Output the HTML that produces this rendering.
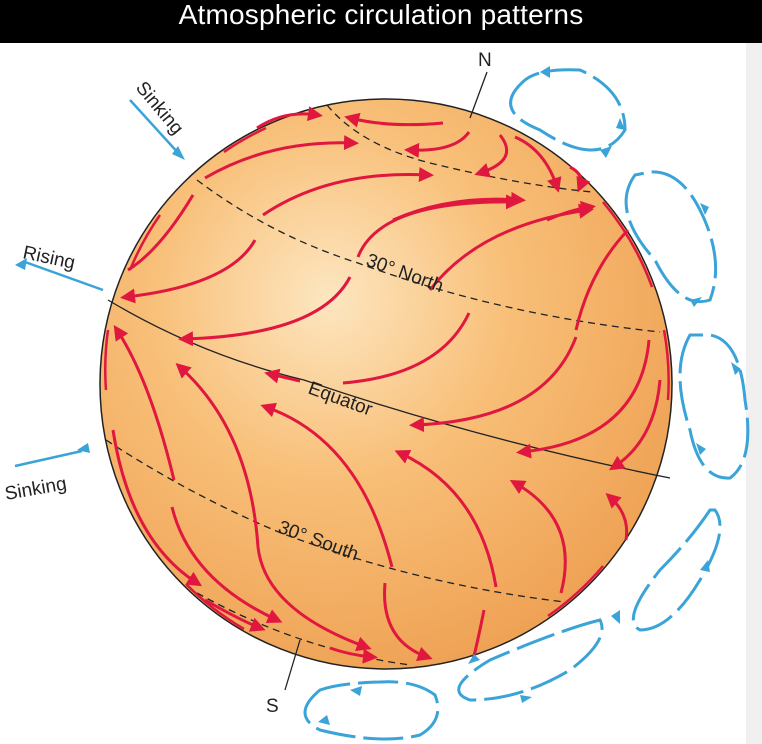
<!DOCTYPE html>
<html><head><meta charset="utf-8"><style>
html,body{margin:0;padding:0;background:#fff}
body{width:762px;height:744px;overflow:hidden;position:relative;font-family:"Liberation Sans",sans-serif}
.hdr{position:absolute;left:0;top:0;width:762px;height:43px;background:#000;color:#fff;font-size:28px;text-align:center;line-height:30px;letter-spacing:0.2px}
.strip{position:absolute;left:746px;top:43px;width:16px;height:701px;background:#f0f0f0}
svg{position:absolute;left:0;top:0}
</style></head><body>
<div class="strip"></div>
<svg width="762" height="744" viewBox="0 0 762 744">
<defs>
<radialGradient id="g" cx="0.4" cy="0.35" r="0.7">
<stop offset="0" stop-color="#fde6c0"/>
<stop offset="0.45" stop-color="#f8bf78"/>
<stop offset="1" stop-color="#eea052"/>
</radialGradient>
<marker id="r" viewBox="0 0 10 10" refX="6" refY="5" markerWidth="5" markerHeight="5" orient="auto"><path d="M0,0L10,5L0,10z" fill="#e0173f"/></marker>
</defs>
<ellipse cx="386" cy="384" rx="286" ry="285" fill="url(#g)" stroke="#222" stroke-width="1.5"/>
<g fill="none" stroke="#222" stroke-width="1.3">
<path d="M327,105 Q360,145 430,163 Q520,185 592,192" stroke-dasharray="7,5"/>
<path d="M197,180 Q270,235 358,263 Q500,315 660,332" stroke-dasharray="7,5"/>
<path d="M108,300 Q200,355 304,380 Q480,440 670,478"/>
<path d="M106,440 Q190,495 281,533 Q420,585 565,602" stroke-dasharray="7,5"/>
<path d="M197,593 Q300,650 410,665" stroke-dasharray="7,5"/>
<path d="M487,72 L470,118"/><path d="M300,640 L285,690"/>
</g>
<g fill="none" stroke="#e0173f" stroke-width="3" marker-end="url(#r)">
<path d="M257,128 Q285,110 317,115"/>
<path d="M443,123 Q390,128 350,118"/>
<path d="M469,132 Q455,152 410,150"/>
<path d="M500,135 Q520,160 480,173"/>
<path d="M515,137 Q545,150 557,187"/>
<path d="M570,167 Q585,175 580,187"/>
<path d="M205,178 Q270,140 353,143"/>
<path d="M263,215 Q330,170 428,175"/>
<path d="M393,220 Q450,195 520,200"/>
<path d="M547,220 Q570,210 590,207"/>
<path d="M358,257 Q380,200 515,202"/>
<path d="M430,290 Q480,225 588,210"/>
<path d="M576,330 Q590,270 628,230" marker-end="none"/>
<path d="M193,195 Q160,250 128,270" marker-end="none"/>
<path d="M255,240 Q230,285 126,297"/>
<path d="M350,277 Q320,335 184,339"/>
<path d="M469,313 Q440,375 343,383" marker-end="none"/>
<path d="M300,381 L270,374"/>
<path d="M576,337 Q545,420 415,425"/>
<path d="M649,340 Q640,440 522,452"/>
<path d="M660,380 Q655,440 614,467"/>
<path d="M174,480 Q150,380 117,330"/>
<path d="M258,547 Q250,430 180,367"/>
<path d="M392,567 Q360,440 266,407"/>
<path d="M496,587 Q480,490 400,453"/>
<path d="M561,593 Q580,520 515,483"/>
<path d="M626,540 Q630,515 610,497"/>
<path d="M113,430 Q130,540 197,583"/>
<path d="M172,507 Q190,580 277,620"/>
<path d="M258,547 Q265,610 366,647"/>
<path d="M385,583 Q380,640 427,657"/>
<path d="M484,610 Q478,640 473,660" marker-end="none"/>
<path d="M205,600 Q240,620 260,628"/>
<path d="M330,648 Q350,655 372,657"/>
</g>
<g fill="none" stroke="#e0173f" stroke-width="2.5">
<path d="M603,202 A283,283 0 0 1 652,287"/>
<path d="M664,330 A283,283 0 0 1 668,400"/>
<path d="M603,566 A283,283 0 0 1 548,616"/>
<path d="M186,584 A283,283 0 0 0 244,629"/>
<path d="M108,330 A283,283 0 0 0 106,390"/>
<path d="M130,270 A283,283 0 0 1 160,215"/>
<path d="M224,152 A283,283 0 0 1 266,128"/>
</g>
<g fill="none" stroke="#3aa3d8" stroke-width="3" stroke-dasharray="40,8">
<path d="M525,80 Q490,110 540,130 Q600,170 625,130 Q625,90 580,70 Q540,68 525,80 Z"/>
<path d="M635,175 Q610,210 655,260 Q680,310 710,300 Q725,260 700,210 Q680,170 650,172 Z"/>
<path d="M690,335 Q670,370 690,430 Q700,480 730,478 Q755,460 745,400 Q740,340 710,335 Z"/>
<path d="M710,510 Q690,540 660,570 Q620,620 640,630 Q670,630 700,580 Q730,530 715,510 Z"/>
<path d="M600,620 Q560,630 490,660 Q440,690 470,700 Q520,700 570,670 Q610,640 600,620 Z"/>
<path d="M320,690 Q290,715 320,730 Q380,745 420,735 Q445,720 435,695 Q415,680 380,682 Q340,683 320,690 Z"/>
</g>
<g fill="#3aa3d8">
<path d="M540,72l10,-6l0,12z"/><path d="M600,150l12,-4l-6,12z"/><path d="M620,118l5,12l-9,-2z"/>
<path d="M705,215l-5,-12l9,4z"/><path d="M690,300l12,-3l-8,10z"/>
<path d="M735,375l-4,-13l10,7z"/><path d="M700,455l-4,-12l10,6z"/>
<path d="M620,610l0,14l-9,-8z"/><path d="M700,570l8,-10l2,12z"/>
<path d="M480,660l-12,4l6,-10z"/><path d="M520,695l12,2l-10,6z"/>
<path d="M350,690l12,-4l-2,10z"/><path d="M330,725l-12,-3l9,-7z"/>
<path d="M185,160l-13,-6l6,-8z"/><path d="M15,265l12,-7l-2,12z"/><path d="M90,453l-13,-3l11,-7z"/>
</g>
<g stroke="#3aa3d8" stroke-width="2.5">
<line x1="130" y1="100" x2="180" y2="155"/>
<line x1="103" y1="290" x2="25" y2="262"/>
<line x1="15" y1="466" x2="82" y2="451"/>
</g>
<g font-family="Liberation Sans,sans-serif" font-size="19" fill="#222">
<text x="135" y="88" transform="rotate(50 135 88)">Sinking</text>
<text x="22" y="258" transform="rotate(12 22 258)">Rising</text>
<text x="6" y="500" transform="rotate(-10 6 500)">Sinking</text>
<text x="478" y="66">N</text>
<text x="266" y="712">S</text>
<text x="365" y="265" transform="rotate(20 365 265)">30° North</text>
<text x="307" y="393" transform="rotate(20 307 393)">Equator</text>
<text x="277" y="532" transform="rotate(20 277 532)">30° South</text>
</g>
</svg>
<div class="hdr">Atmospheric circulation patterns</div>
</body></html>
